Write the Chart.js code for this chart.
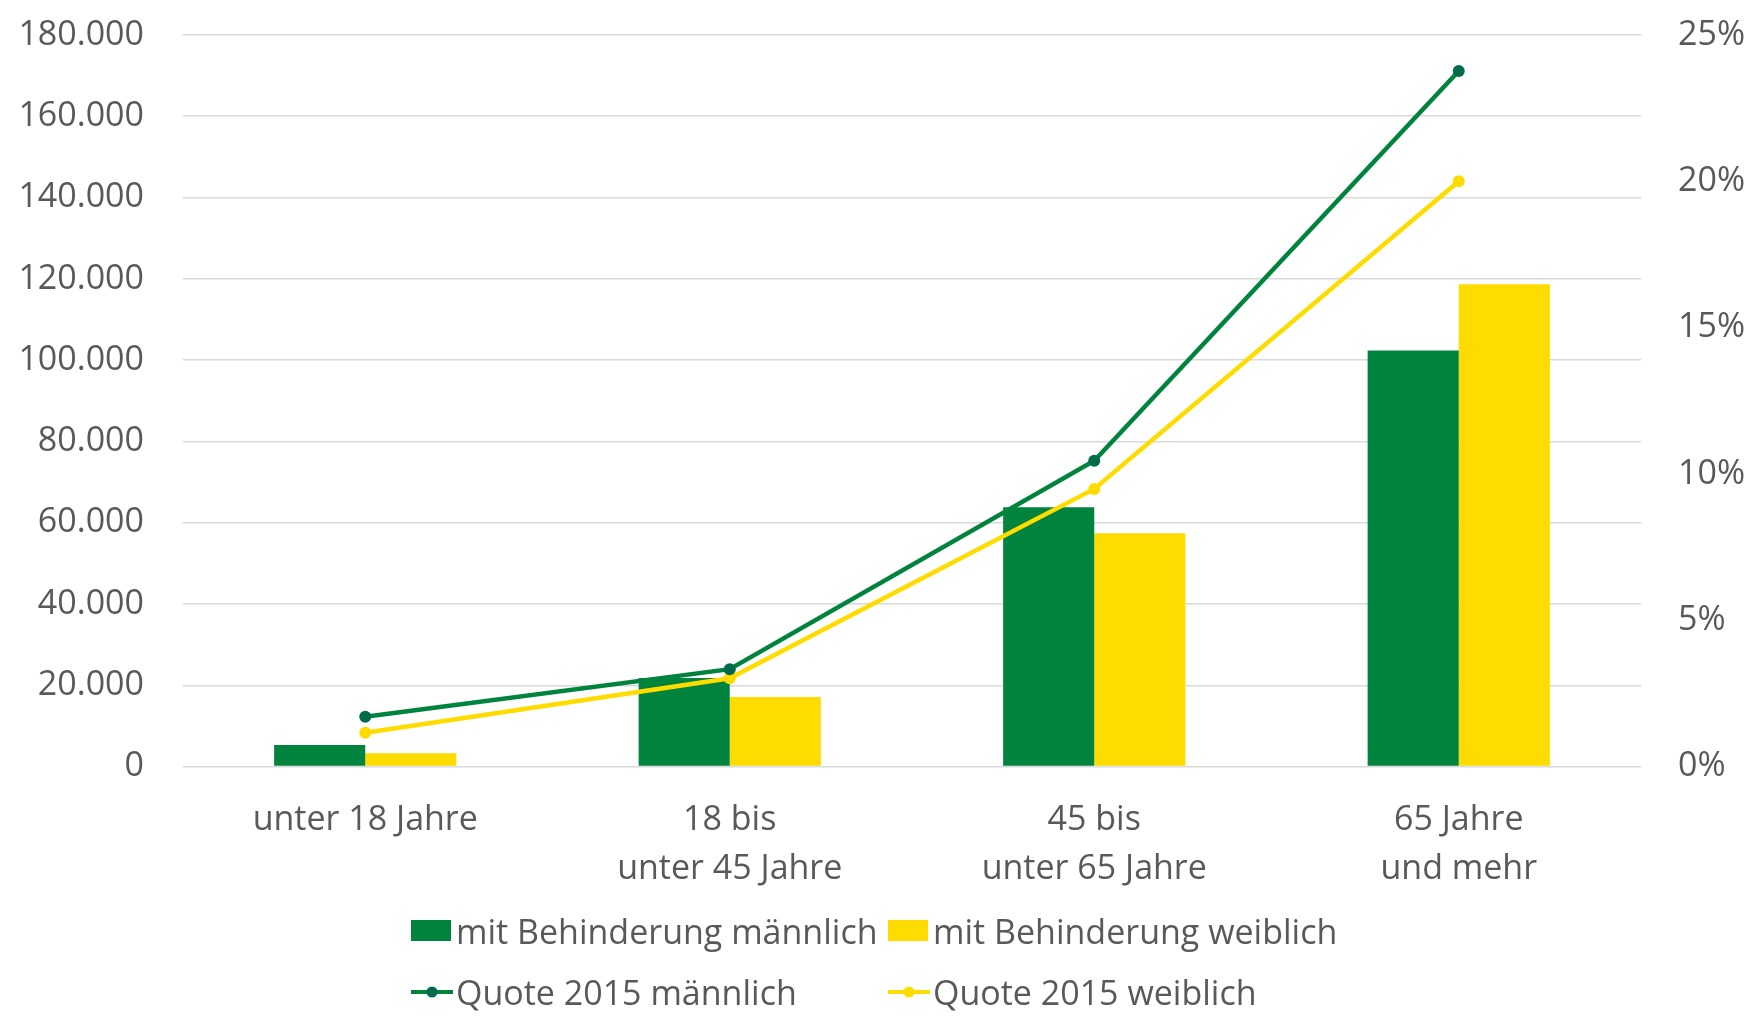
<!DOCTYPE html>
<html lang="de">
<head>
<meta charset="utf-8">
<title>Menschen mit Behinderung nach Altersgruppen</title>
<script src="https://cdn.jsdelivr.net/npm/chart.js@4.4.1/dist/chart.umd.min.js"></script>
<style>
  html, body { margin: 0; padding: 0; background: #fff; }
  #wrap { position: relative; width: 1760px; height: 1032px; }
  #legend {
    position: absolute; left: 411px; top: 900px;
    display: grid; grid-template-columns: 477px 477px; grid-auto-rows: 61.5px;
    font: 34px "Open Sans"; color: #595959;
  }
  .item { display: flex; align-items: center; white-space: nowrap; }
  .box { width: 40px; height: 21px; margin-right: 5px; }
  .lineSym { position: relative; width: 42px; height: 4px; margin-right: 3px; }
  .lineSym i {
    position: absolute; left: 50%; top: 50%; width: 11px; height: 11px;
    border-radius: 50%; transform: translate(-50%, -50%);
  }
</style>
</head>
<body>
<div id="wrap">
  <canvas id="chart" width="1760" height="1032"></canvas>
  <div id="legend"></div>
</div>
<script>
// categories (x axis)
const labels = [
  "unter 18 Jahre",
  ["18 bis", "unter 45 Jahre"],
  ["45 bis", "unter 65 Jahre"],
  ["65 Jahre", "und mehr"],
];

// people with disability, count
const maleCount = [5300, 21800, 63800, 102400];
const femaleCount = [3300, 17100, 57400, 118700];

// quota 2015, percent
const quoteMale = [1.7, 3.33, 10.45, 23.77];
const quoteFemale = [1.16, 3.02, 9.49, 20.0];

const green = "#00843D";
const greenDark = "#006B4A";
const yellow = "#FFDC00";
const textColor = "#595959";

Chart.defaults.font.family = '"Open Sans"';
Chart.defaults.font.size = 34;
Chart.defaults.color = textColor;

// thousands separator like 180.000
const fmtNum = (v) => String(v).replace(/\B(?=(\d{3})+(?!\d))/g, ".");

// legend as html, two aligned columns
const htmlLegend = {
  id: "htmlLegend",
  afterUpdate(chart) {
    const box = document.getElementById("legend");
    box.innerHTML = "";
    chart.data.datasets.forEach((ds) => {
      const item = document.createElement("div");
      item.className = "item";
      let sym;
      if (ds.type === "line") {
        sym = document.createElement("span");
        sym.className = "lineSym";
        sym.style.background = ds.borderColor;
        const dot = document.createElement("i");
        dot.style.background = ds.pointBackgroundColor;
        sym.appendChild(dot);
      } else {
        sym = document.createElement("span");
        sym.className = "box";
        sym.style.background = ds.backgroundColor;
      }
      const txt = document.createElement("span");
      txt.textContent = ds.label;
      item.appendChild(sym);
      item.appendChild(txt);
      box.appendChild(item);
    });
  },
};

const ctx = document.getElementById("chart").getContext("2d");

new Chart(ctx, {
  data: {
    labels: labels,
    datasets: [
      {
        type: "bar",
        label: "mit Behinderung männlich",
        data: maleCount,
        backgroundColor: green,
        yAxisID: "y",
        order: 1,
      },
      {
        type: "bar",
        label: "mit Behinderung weiblich",
        data: femaleCount,
        backgroundColor: yellow,
        yAxisID: "y",
        order: 1,
      },
      {
        type: "line",
        label: "Quote 2015 männlich",
        data: quoteMale,
        borderColor: green,
        borderWidth: 4.5,
        pointRadius: 6,
        pointBorderWidth: 0,
        pointBackgroundColor: greenDark,
        yAxisID: "y2",
        order: 0,
      },
      {
        type: "line",
        label: "Quote 2015 weiblich",
        data: quoteFemale,
        borderColor: yellow,
        borderWidth: 4.5,
        pointRadius: 6,
        pointBorderWidth: 0,
        pointBackgroundColor: yellow,
        yAxisID: "y2",
        order: 0,
      },
    ],
  },
  options: {
    responsive: false,
    devicePixelRatio: 1,
    animation: false,
    categoryPercentage: 0.5,
    barPercentage: 1.0,
    layout: { padding: { left: 17, top: 35, right: 0, bottom: 120 } },
    plugins: {
      legend: { display: false },
      tooltip: { enabled: false },
    },
    scales: {
      x: {
        grid: { display: false, drawTicks: false },
        border: { display: false },
        ticks: {
          padding: 29,
          maxRotation: 0,
          autoSkip: false,
          font: { size: 34, lineHeight: 1.45 },
        },
        afterFit: (axis) => { axis.height = 145.4; },
      },
      y: {
        position: "left",
        min: 0,
        max: 180000,
        // invisible tick marks give the gap between labels and plot
        grid: {
          color: "#D9D9D9",
          lineWidth: 1.6,
          drawTicks: true,
          tickLength: 39,
          tickColor: "rgba(0,0,0,0)",
        },
        border: { display: false },
        ticks: {
          stepSize: 20000,
          padding: 0,
          callback: (v) => fmtNum(v),
        },
        afterFit: (axis) => { axis.width = 166; },
      },
      y2: {
        position: "right",
        min: 0,
        max: 25,
        grid: {
          display: true,
          drawOnChartArea: false,
          drawTicks: true,
          tickLength: 37,
          tickColor: "rgba(0,0,0,0)",
        },
        border: { display: false },
        ticks: {
          stepSize: 5,
          padding: 0,
          callback: (v) => v + "%",
        },
        afterFit: (axis) => { axis.width = 119; },
      },
    },
  },
  plugins: [htmlLegend],
});
</script>
</body>
</html>
